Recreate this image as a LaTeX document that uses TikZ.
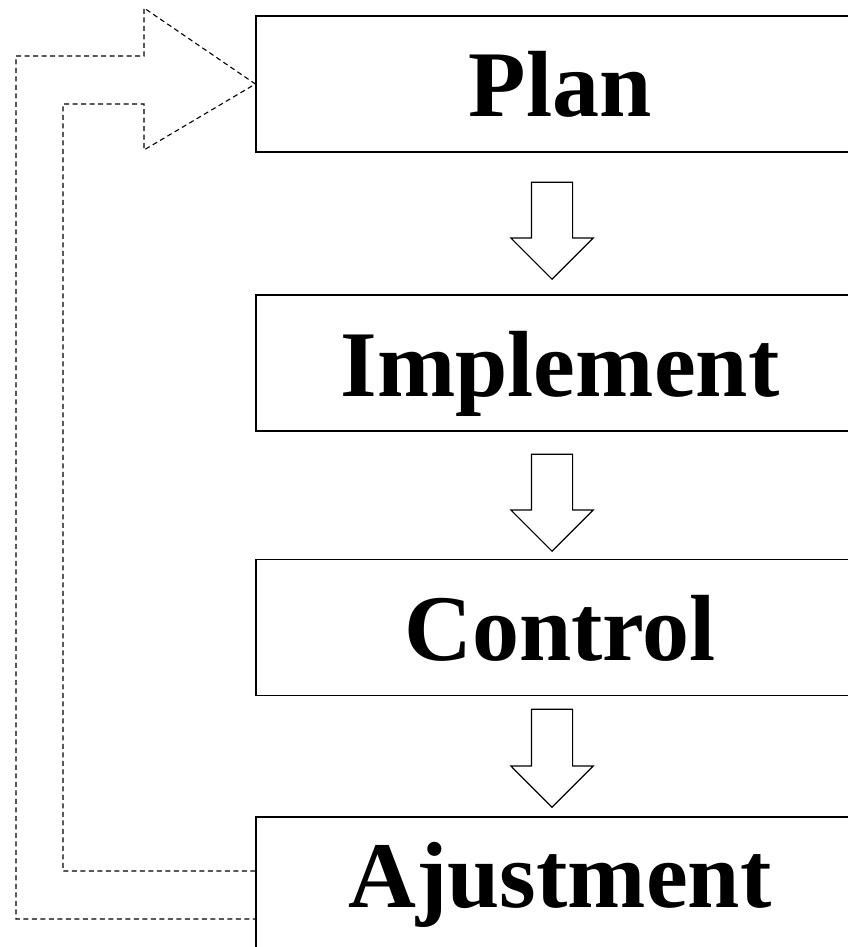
\documentclass[tikz,border=0pt]{standalone}
\usepackage{fontspec}
\setmainfont{Liberation Serif}
\usetikzlibrary{shapes.arrows}
\tikzset{
  stage/.style={draw,line width=1.3pt,minimum width=608pt,minimum height=136pt,inner sep=0pt,
    font=\bfseries\fontsize{94}{100}\selectfont,text height=66pt,text depth=0pt},
  downarrow/.style={single arrow,draw,line width=1.2pt,rotate=-90,inner sep=0pt,anchor=tip,
    text height=20pt,text depth=20pt,single arrow head extend=20.5pt,minimum height=97pt},
  feedback/.style={line width=1.1pt,dash pattern=on 5pt off 3.5pt}
}
\begin{document}
\begin{tikzpicture}[x=1pt,y=-1pt]
                \useasboundingbox (0,0) rectangle (848,947);
                \clip (0,0) rectangle (848,947);
                \node[stage] (plan) at (560,84) {Plan};
                \node[stage] (implement) at (560,363) {Implement};
                \node[stage] (control) at (560,627.5) {Control};
                \node[stage,minimum height=150pt,text depth=36pt] (adjust) at (560,892) {Ajustment};
                \node[downarrow] (arrA) at (552,280) {};
                \node[downarrow] (arrB) at (552,552) {};
                \node[downarrow,minimum height=98pt] (arrC) at (552,808) {};
                \draw[feedback] ([yshift=21pt]adjust.west) -| (63,104) -- (144,104) -- (144,150) -- (plan.west)
                    -- (144,8) -- (144,56) -- (16,56) |- ([yshift=-27pt]adjust.west);
            \end{tikzpicture}
\end{document}
